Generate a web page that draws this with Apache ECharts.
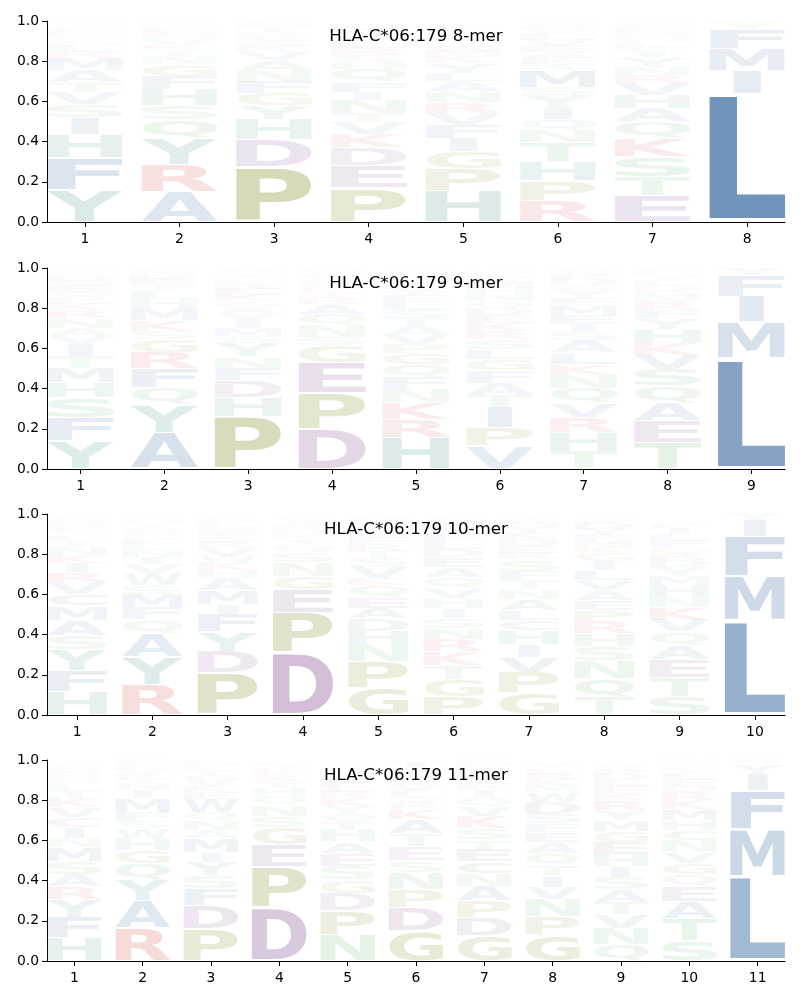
<!DOCTYPE html>
<html>
<head>
<meta charset="utf-8">
<script src="https://cdn.jsdelivr.net/npm/echarts@6/dist/echarts.min.js"></script>
<style>html,body{margin:0;padding:0;background:#fff}#chart{width:800px;height:1000px}</style>
</head>
<body>
<div id="chart"></div>
<script>
// ---- data: letter frequencies per position, listed bottom -> top ----
const titles = ['HLA-C*06:179 8-mer', 'HLA-C*06:179 9-mer', 'HLA-C*06:179 10-mer', 'HLA-C*06:179 11-mer'];

const mer8 = [
  {Y:.16,F:.16,H:.115,I:.085,S:.065,V:.06,T:.05,A:.06,M:.06,R:.03,L:.03,N:.025,Q:.02,K:.02,E:.015,D:.015,G:.01,W:.01,C:.01,P:.01},
  {A:.15,R:.135,Y:.13,Q:.095,S:.07,H:.08,F:.065,G:.06,N:.04,T:.03,K:.025,V:.025,M:.02,E:.02,L:.015,D:.015,I:.01,P:.01,W:.005},
  {P:.275,D:.137,H:.10,Y:.065,G:.062,F:.058,N:.058,A:.05,V:.04,K:.03,S:.025,E:.025,R:.02,T:.02,M:.015,L:.01,Q:.01},
  {P:.17,E:.11,D:.09,K:.067,V:.06,T:.045,N:.065,I:.04,F:.05,Q:.065,H:.035,S:.035,R:.035,L:.03,G:.03,Y:.025,M:.02,W:.01,C:.01},
  {H:.156,P:.108,G:.085,I:.065,F:.067,V:.06,R:.055,N:.055,A:.05,L:.04,Y:.05,K:.03,M:.03,S:.03,T:.025,E:.025,D:.02,Q:.02,W:.01,C:.01},
  {R:.105,P:.1,H:.096,T:.095,N:.062,Q:.053,I:.06,Y:.06,S:.04,M:.085,K:.03,F:.03,A:.03,E:.03,V:.03,L:.03,G:.02,D:.02,W:.01,C:.01},
  {E:.13,T:.096,S:.1,K:.09,Q:.083,A:.066,H:.066,V:.06,R:.04,N:.04,Y:.045,I:.03,F:.025,L:.025,G:.02,M:.02,D:.02,P:.02,W:.01,C:.01},
  {L:.64,I:.115,M:.11,F:.095,Y:.03,V:.01}
];

const mer9 = [
  {Y:.14,F:.115,S:.1,H:.075,M:.072,T:.06,I:.06,V:.04,A:.04,N:.05,R:.04,K:.03,L:.03,Q:.03,E:.03,G:.025,D:.025,P:.015,W:.01,C:.01},
  {A:.18,Y:.14,Q:.085,F:.095,R:.08,G:.065,S:.04,K:.055,M:.06,H:.045,L:.04,T:.03,E:.03,D:.02,N:.02,P:.015},
  {P:.263,H:.095,D:.083,F:.062,N:.057,Y:.065,S:.035,M:.04,I:.04,V:.035,A:.03,G:.03,K:.03,E:.03,R:.025,L:.025,T:.02,Q:.015,W:.01,C:.01},
  {D:.197,P:.183,E:.15,G:.085,S:.04,N:.06,Q:.055,A:.05,R:.03,T:.025,K:.02,H:.02,L:.02,V:.02,F:.015,Y:.01,M:.01,I:.01},
  {H:.155,R:.09,K:.085,N:.065,F:.06,Q:.065,G:.055,P:.045,V:.045,A:.045,T:.04,S:.04,L:.04,E:.035,Y:.03,I:.03,D:.025,M:.02,W:.01,C:.01},
  {V:.113,P:.092,I:.1,T:.063,A:.06,F:.06,G:.058,L:.05,S:.05,R:.04,K:.04,E:.04,D:.035,Q:.035,N:.035,H:.03,M:.03,Y:.025,C:.015,W:.01},
  {T:.088,H:.095,R:.075,V:.07,Q:.075,N:.065,K:.055,L:.055,A:.06,S:.04,I:.04,E:.045,M:.05,F:.035,Y:.035,G:.03,D:.03,P:.025,C:.015,W:.015},
  {T:.13,E:.112,A:.087,Q:.083,S:.083,V:.072,K:.058,H:.07,Y:.055,F:.04,R:.04,N:.03,G:.025,D:.025,L:.025,I:.02,M:.02,P:.015,W:.01},
  {L:.55,M:.18,I:.13,F:.105,Y:.035}
];

const mer10 = [
  {H:.118,F:.104,Y:.103,S:.071,A:.077,M:.07,C:.058,V:.06,R:.05,I:.045,K:.04,N:.04,T:.03,L:.025,Q:.02,E:.02,G:.02,D:.02,P:.015,W:.01},
  {R:.15,Y:.14,A:.117,Q:.068,F:.06,M:.067,S:.045,W:.058,V:.045,I:.035,N:.035,L:.03,K:.025,G:.02,E:.02,D:.02,T:.02,H:.015,P:.01,C:.01},
  {P:.209,D:.108,Y:.097,F:.088,I:.05,M:.067,A:.06,H:.04,K:.04,W:.03,V:.04,R:.03,S:.03,E:.025,N:.025,L:.02,G:.02,T:.015},
  {D:.31,P:.2,E:.115,G:.065,N:.07,S:.05,Q:.035,T:.03,K:.025,H:.02,R:.02,A:.02,V:.015,L:.01,F:.01,Y:.005},
  {G:.134,P:.132,N:.086,H:.065,D:.061,A:.053,E:.055,Q:.06,K:.035,V:.06,S:.04,T:.035,R:.035,F:.03,L:.03,Y:.025,I:.025,M:.02,W:.01,C:.01},
  {P:.093,G:.085,T:.07,K:.067,R:.063,N:.055,S:.05,I:.05,H:.05,V:.05,Q:.05,A:.05,E:.05,D:.04,L:.04,F:.035,Y:.03,M:.03,C:.02,W:.01},
  {G:.11,P:.102,V:.075,I:.062,H:.07,C:.05,L:.05,A:.055,N:.05,T:.045,F:.045,S:.06,R:.03,E:.035,D:.035,K:.03,Y:.03,M:.025,W:.02,Q:.02},
  {T:.088,Q:.094,N:.087,S:.074,H:.062,R:.06,P:.055,E:.05,A:.05,V:.05,L:.05,I:.045,G:.04,K:.03,M:.03,F:.03,Y:.03,D:.03,W:.015,C:.01},
  {S:.09,T:.095,E:.092,A:.07,Q:.067,V:.058,K:.062,N:.053,H:.058,M:.045,Y:.045,D:.035,R:.035,G:.03,F:.03,L:.03,I:.03,P:.025,W:.01,C:.01},
  {L:.47,M:.22,F:.2,I:.08,Y:.03}
];

const mer11 = [
  {H:.114,F:.104,Y:.087,R:.063,A:.064,S:.066,M:.066,N:.045,I:.055,C:.05,V:.05,K:.045,T:.035,L:.03,Q:.025,E:.02,D:.02,G:.02,P:.015,W:.01},
  {R:.164,A:.138,Y:.103,Q:.082,G:.062,H:.06,W:.05,S:.035,F:.045,M:.07,I:.04,N:.03,T:.025,K:.025,V:.025,L:.02,E:.015,D:.01},
  {P:.16,D:.117,F:.085,S:.063,Y:.066,I:.05,M:.067,A:.04,N:.05,Q:.04,W:.065,E:.035,K:.03,V:.03,G:.025,T:.025,L:.02,H:.015,R:.015},
  {D:.264,P:.204,E:.11,G:.085,S:.058,N:.055,Q:.045,H:.04,T:.03,A:.025,K:.025,R:.02,V:.015,L:.015},
  {N:.131,P:.121,D:.086,G:.065,S:.07,E:.063,A:.057,H:.058,T:.04,Q:.04,Y:.04,K:.04,R:.03,L:.03,F:.03,I:.025,M:.02,C:.02,V:.02,W:.01},
  {G:.15,D:.115,P:.09,N:.083,S:.06,E:.07,T:.065,A:.07,K:.05,R:.03,Q:.03,L:.03,V:.03,Y:.025,F:.025,H:.03,I:.03,M:.015},
  {G:.125,D:.09,P:.083,A:.075,N:.062,C:.06,E:.058,T:.05,S:.055,K:.06,V:.05,Q:.045,I:.035,F:.03,Y:.03,L:.025,H:.02,R:.02,M:.015,W:.01},
  {G:.13,P:.09,N:.088,V:.06,I:.055,T:.052,Q:.06,A:.057,E:.05,F:.04,S:.05,D:.06,W:.05,M:.03,K:.03,R:.03,L:.025,Y:.025,C:.01},
  {Q:.08,N:.08,V:.07,T:.063,A:.062,S:.062,I:.055,H:.06,E:.058,G:.055,M:.055,Y:.05,R:.05,K:.035,F:.035,L:.03,D:.03,P:.03,W:.015,C:.015},
  {S:.1,T:.11,A:.085,E:.075,Q:.06,G:.058,V:.052,N:.058,C:.05,H:.05,M:.055,K:.045,R:.04,D:.03,F:.03,L:.03,I:.02,P:.02,Y:.02,W:.01},
  {L:.42,M:.235,F:.195,I:.08,Y:.05,V:.01,W:.01}
];

const panels = [mer8, mer9, mer10, mer11];
const yTicks = [0, 0.2, 0.4, 0.6, 0.8, 1.0];

// ---- styling ----
const AA = 'ACDEFGHIKLMNPQRSTVWY';
const groupColor = {
  A:[78,121,170], V:[78,121,170], L:[78,121,170], I:[78,121,170], M:[78,121,170], F:[78,121,170], W:[78,121,170],
  Y:[75,150,145], H:[75,150,145],
  P:[140,145,50], G:[140,145,50],
  D:[140,90,150], E:[140,90,150], C:[140,90,150],
  R:[215,80,80], K:[215,80,80],
  S:[90,180,100], T:[90,180,100], N:[90,180,100], Q:[90,180,100]
};
function letterColor(ch, v) {
  const a = Math.min(1, 1.25 * v);
  const c = groupColor[ch];
  return 'rgba(' + c[0] + ',' + c[1] + ',' + c[2] + ',' + a.toFixed(3) + ')';
}

const FONT = 'bold 100px "DejaVu Sans"';
const metrics = {};
(function () {
  const ctx = document.createElement('canvas').getContext('2d');
  ctx.font = FONT; ctx.textBaseline = 'middle'; ctx.textAlign = 'left';
  for (const ch of AA) {
    const m = ctx.measureText(ch);
    metrics[ch] = {L: m.actualBoundingBoxLeft, R: m.actualBoundingBoxRight, A: m.actualBoundingBoxAscent, D: m.actualBoundingBoxDescent};
  }
})();
const maxStretchRef = 'E';

function buildData(panel) {
  const out = [];
  panel.forEach((col, i) => {
    let y = 0;
    for (const [ch, v] of Object.entries(col)) {
      out.push([i + 1, y, y + v, AA.indexOf(ch), v]);
      y += v;
    }
  });
  return out;
}

function renderItem(params, api) {
  const pos = api.value(0), y0 = api.value(1), y1 = api.value(2), li = api.value(3), v = api.value(4);
  const ch = AA[li];
  const pad = (y1 - y0) * 0.03;
  const p0 = api.coord([pos - 0.4, y1 - pad]);
  const p1 = api.coord([pos + 0.4, y0 + pad]);
  const bw = p1[0] - p0[0], bh = p1[1] - p0[1];
  const m = metrics[ch];
  const gw = m.L + m.R;
  const eRef = metrics[maxStretchRef];
  const sxCap = bw / (eRef.L + eRef.R);
  const sx = Math.min(bw / gw, sxCap), sy = bh / (m.A + m.D);
  const left = p0[0] + (bw - sx * gw) / 2;
  return {
    type: 'text',
    x: left + sx * m.L,
    y: p0[1] + sy * m.A,
    scaleX: sx, scaleY: sy,
    silent: true,
    style: {text: ch, x: 0, y: 0, font: FONT, fill: letterColor(ch, v), textAlign: 'left', textVerticalAlign: 'middle'}
  };
}

const gridTops = [21, 268, 514, 760];
const grids = [], xAxes = [], yAxes = [], series = [], titleOpts = [];
panels.forEach((panel, pi) => {
  const n = panel.length;
  const ticks = panel.map((_, i) => i + 1);
  grids.push({left: 47, width: 738, top: gridTops[pi], height: 201});
  xAxes.push({
    type: 'value', gridIndex: pi, min: 0.6, max: n + 0.4,
    axisLine: {show: true, lineStyle: {color: '#000', width: 1}},
    axisTick: {show: true, length: 5, lineStyle: {color: '#000'}, customValues: ticks},
    axisLabel: {show: true, customValues: ticks, margin: 10, color: '#000', fontFamily: 'DejaVu Sans', fontSize: 13.9},
    splitLine: {show: false}
  });
  yAxes.push({
    type: 'value', gridIndex: pi, min: 0, max: 1,
    axisLine: {show: true, lineStyle: {color: '#000', width: 1}},
    axisTick: {show: true, length: 5, lineStyle: {color: '#000'}, customValues: yTicks},
    axisLabel: {show: true, customValues: yTicks, margin: 8, color: '#000', fontFamily: 'DejaVu Sans', fontSize: 13.9,
      formatter: v => Number(v).toFixed(1)},
    splitLine: {show: false}
  });
  series.push({
    type: 'custom', xAxisIndex: pi, yAxisIndex: pi, renderItem: renderItem,
    data: buildData(panel), encode: {x: 0, y: [1, 2]}, silent: true, clip: false
  });
  titleOpts.push({
    text: titles[pi], left: 416, top: gridTops[pi] + 7, textAlign: 'center', padding: 0,
    textStyle: {fontFamily: 'DejaVu Sans', fontSize: 16.7, fontWeight: 'normal', color: '#000'}
  });
});

const chart = echarts.init(document.getElementById('chart'), null, {renderer: 'canvas'});
chart.setOption({
  animation: false,
  backgroundColor: '#fff',
  title: titleOpts,
  grid: grids,
  xAxis: xAxes,
  yAxis: yAxes,
  series: series
});
</script>
</body>
</html>
